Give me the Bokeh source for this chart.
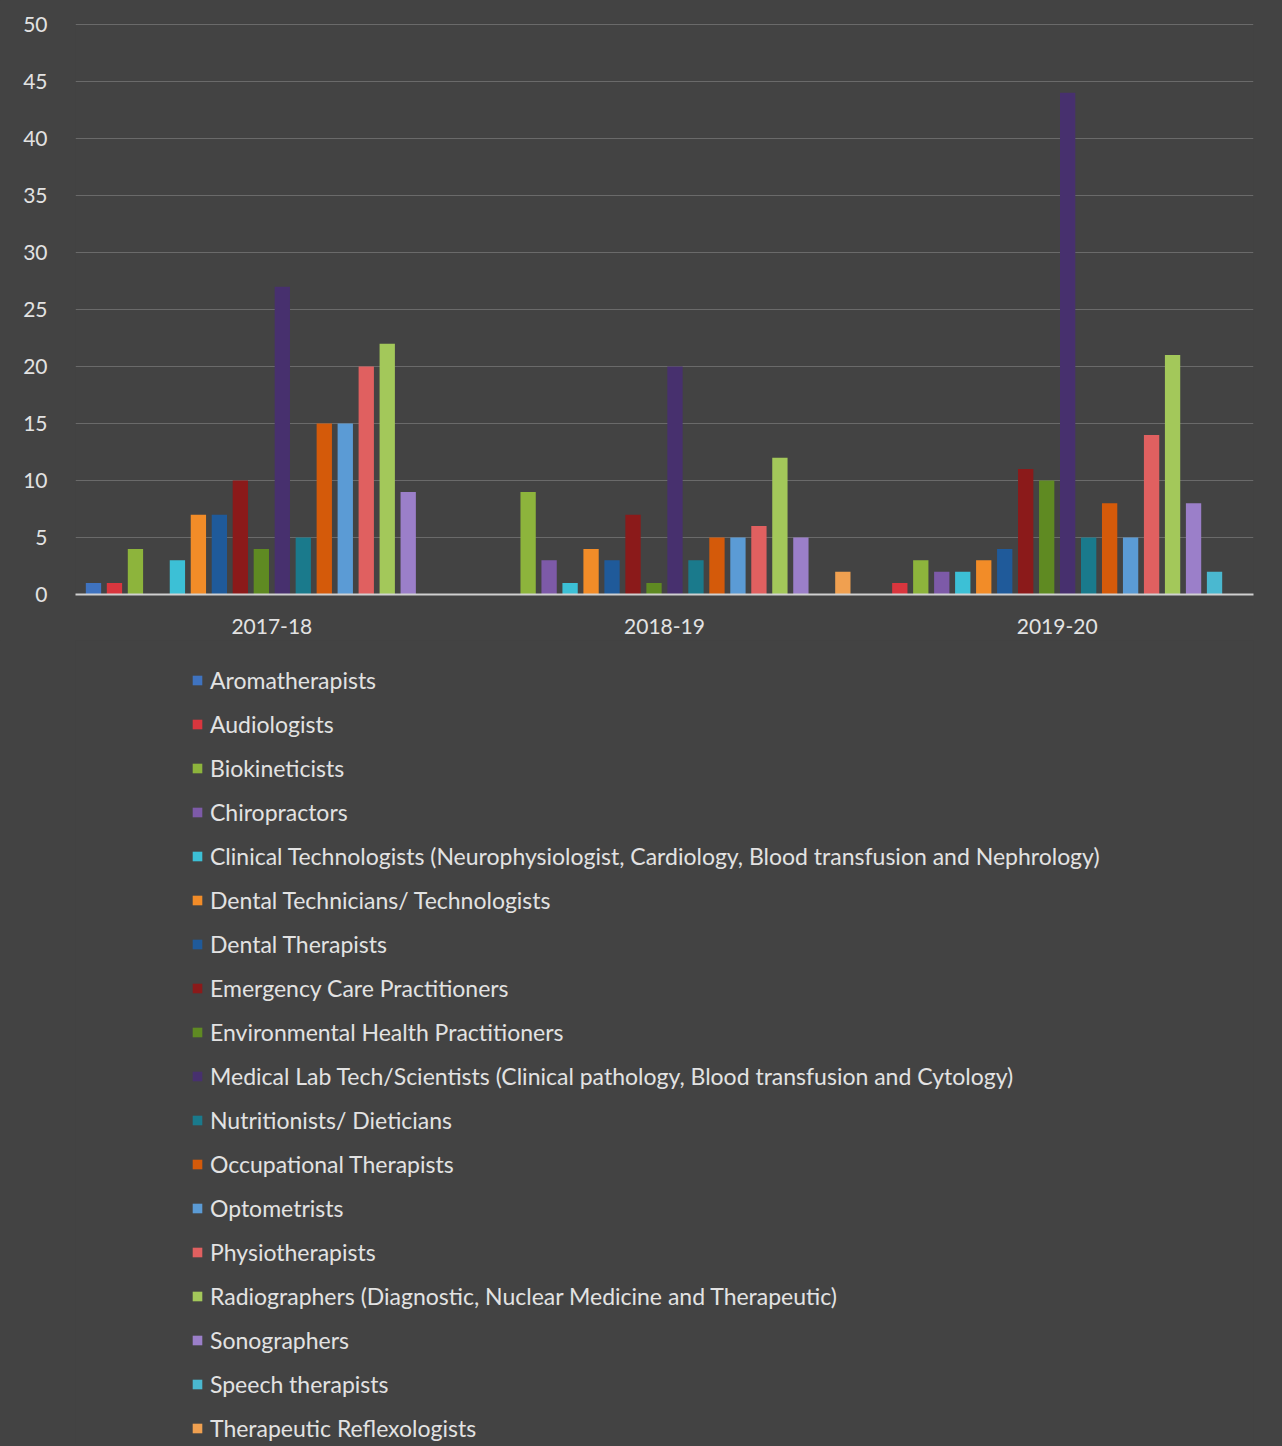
from bokeh.plotting import figure
from bokeh.layouts import column
from bokeh.models import FactorRange, Range1d, Legend, LegendItem, SingleIntervalTicker, ColumnDataSource
from bokeh.transform import dodge
from bokeh.embed import file_html
from bokeh.resources import INLINE

years = ["2017-18", "2018-19", "2019-20"]

names = [
    "Aromatherapists",
    "Audiologists",
    "Biokineticists",
    "Chiropractors",
    "Clinical Technologists (Neurophysiologist, Cardiology, Blood transfusion and Nephrology)",
    "Dental Technicians/ Technologists",
    "Dental Therapists",
    "Emergency Care Practitioners",
    "Environmental Health Practitioners",
    "Medical Lab Tech/Scientists (Clinical pathology, Blood transfusion and Cytology)",
    "Nutritionists/ Dieticians",
    "Occupational Therapists",
    "Optometrists",
    "Physiotherapists",
    "Radiographers (Diagnostic, Nuclear Medicine and Therapeutic)",
    "Sonographers",
    "Speech therapists",
    "Therapeutic Reflexologists",
]

aromatherapists = [1, 0, 0]
audiologists = [1, 0, 1]
biokineticists = [4, 9, 3]
chiropractors = [0, 3, 2]
clinical_technologists = [3, 1, 2]
dental_technicians = [7, 4, 3]
dental_therapists = [7, 3, 4]
emergency_care = [10, 7, 11]
environmental_health = [4, 1, 10]
medical_lab = [27, 20, 44]
nutritionists = [5, 3, 5]
occupational_therapists = [15, 5, 8]
optometrists = [15, 5, 5]
physiotherapists = [20, 6, 14]
radiographers = [22, 12, 21]
sonographers = [9, 5, 8]
speech_therapists = [0, 0, 2]
reflexologists = [0, 2, 0]

series = [
    aromatherapists, audiologists, biokineticists, chiropractors,
    clinical_technologists, dental_technicians, dental_therapists,
    emergency_care, environmental_health, medical_lab, nutritionists,
    occupational_therapists, optometrists, physiotherapists, radiographers,
    sonographers, speech_therapists, reflexologists,
]

colors = [
    "#3f73c0", "#d9363e", "#8db43c", "#7d5aa8", "#3cc0d6", "#f28c28",
    "#1f5a9a", "#8b1a1a", "#5f8a22", "#47306e", "#1a7a8c", "#d45a0a",
    "#5b9bd5", "#e06060", "#a3c85a", "#9b7fc9", "#4ab8d0", "#f0a050",
]

bg = "#434343"
txt = "#e2e2e2"

source = ColumnDataSource(dict(year=years, **{f"s{i}": v for i, v in enumerate(series)}))
step = 21.0 / 393.0

p = figure(
    x_range=FactorRange(*years, range_padding=0),
    y_range=Range1d(0, 50.08),
    width=1280,
    height=640,
    min_border_left=75,
    min_border_right=27,
    min_border_top=23,
    min_border_bottom=46,
    output_backend="svg",
    toolbar_location=None,
    background_fill_color=bg,
    border_fill_color=bg,
)
p.outline_line_color = None

for i, col in enumerate(colors):
    p.vbar(
        x=dodge("year", (i - 8.5) * step, range=p.x_range),
        top=f"s{i}",
        width=0.039,
        source=source,
        fill_color=col,
        line_color=None,
    )

p.yaxis.ticker = SingleIntervalTicker(interval=5)
p.yaxis.axis_line_color = None
p.yaxis.major_tick_line_color = None
p.yaxis.minor_tick_line_color = None
p.yaxis.major_label_text_font = "Lato"
p.yaxis.major_label_text_font_size = "21px"
p.yaxis.major_label_text_color = txt
p.yaxis.major_label_standoff = 22

p.xaxis.axis_line_color = "#d0d0d0"
p.xaxis.axis_line_width = 2
p.xaxis.major_tick_line_color = None
p.xaxis.minor_tick_line_color = None
p.xaxis.major_label_text_font = "Lato"
p.xaxis.major_label_text_font_size = "21px"
p.xaxis.major_label_text_color = txt
p.xaxis.major_label_standoff = 18

p.xgrid.grid_line_color = None
p.ygrid.grid_line_color = "#6a6a6a"
p.ygrid.grid_line_width = 1

# legend panel (same bars, scrolled out of view; only the legend shows)
q = figure(
    x_range=FactorRange(*years, range_padding=0),
    y_range=Range1d(100, 101),
    width=1280,
    height=804,
    min_border=0,
    x_axis_type=None,
    y_axis_type=None,
    output_backend="svg",
    toolbar_location=None,
    background_fill_color=bg,
    border_fill_color=bg,
)
q.outline_line_color = None
q.grid.visible = False

items = []
for i, (name, col) in enumerate(zip(names, colors)):
    r = q.vbar(
        x=dodge("year", (i - 8.5) * step, range=q.x_range),
        top=f"s{i}",
        width=0.039,
        source=source,
        fill_color=col,
        line_color=None,
    )
    items.append(LegendItem(label=name, renderers=[r]))

legend = Legend(
    items=items,
    orientation="vertical",
    location=(116, 1),
    background_fill_alpha=0,
    border_line_color=None,
    label_text_font="Lato",
    label_text_font_size="23px",
    label_text_color=txt,
    glyph_width=12,
    glyph_height=12,
    label_height=30,
    label_standoff=7,
    spacing=14,
    padding=0,
    margin=0,
)
q.add_layout(legend, "center")

layout = column(p, q, spacing=0)
html = file_html(layout, INLINE)
html = html.replace("<head>", "<head><style>html, body { background: #434343; }</style>", 1)
open("out.html", "w").write(html)
